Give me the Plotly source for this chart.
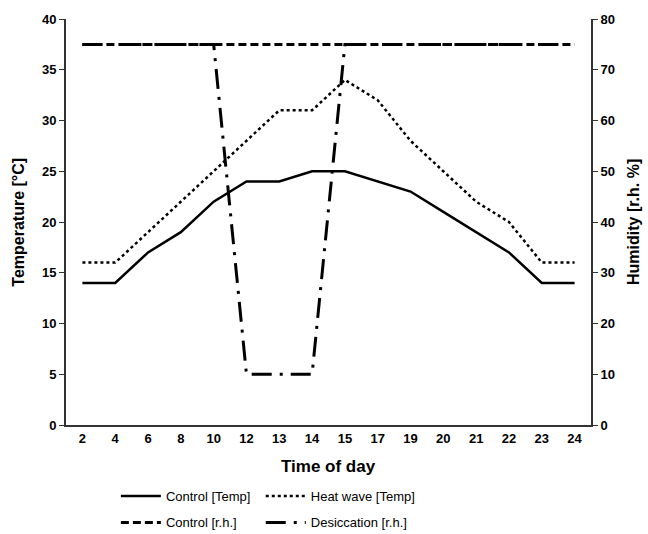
import plotly.graph_objects as go

hours = ["2", "4", "6", "8", "10", "12", "13", "14", "15", "17", "19", "20", "21", "22", "23", "24"]
control_temp = [14, 14, 17, 19, 22, 24, 24, 25, 25, 24, 23, 21, 19, 17, 14, 14]
heatwave_temp = [16, 16, 19, 22, 25, 28, 31, 31, 34, 32, 28, 25, 22, 20, 16, 16]
control_rh = [75, 75, 75, 75, 75, 75, 75, 75, 75, 75, 75, 75, 75, 75, 75, 75]
desiccation_rh = [75, 75, 75, 75, 75, 10, 10, 10, 75, 75, 75, 75, 75, 75, 75, 75]

FONT = "Liberation Sans, Arial, sans-serif"

fig = go.Figure()
fig.add_trace(go.Scatter(x=hours, y=control_temp, name="Control [Temp]", mode="lines",
                         legend="legend", line=dict(color="black", width=2.5)))
fig.add_trace(go.Scatter(x=hours, y=heatwave_temp, name="Heat wave [Temp]", mode="lines",
                         legend="legend2", line=dict(color="black", width=2.5, dash="dot")))
fig.add_trace(go.Scatter(x=hours, y=control_rh, name="Control [r.h.]", mode="lines", yaxis="y2",
                         legend="legend3", line=dict(color="black", width=3, dash="8px,4px")))
fig.add_trace(go.Scatter(x=hours, y=desiccation_rh, name="Desiccation [r.h.]", mode="lines", yaxis="y2",
                         legend="legend4", line=dict(color="black", width=3, dash="20px,8px,3px,8px")))

leg_common = dict(orientation="h", xanchor="left", yanchor="middle",
                  font=dict(size=13, family=FONT), itemwidth=40,
                  bgcolor="rgba(0,0,0,0)")

fig.update_layout(
    width=648, height=534,
    margin=dict(l=66, r=57, t=19, b=109, autoexpand=False),
    paper_bgcolor="white", plot_bgcolor="white",
    font=dict(family=FONT, color="black"),
    showlegend=True,
    legend=dict(x=0.095, y=-0.175, **leg_common),
    legend2=dict(x=0.371, y=-0.175, **leg_common),
    legend3=dict(x=0.095, y=-0.24, **leg_common),
    legend4=dict(x=0.371, y=-0.24, **leg_common),
    xaxis=dict(type="category", range=[-0.5, 15.5], showgrid=False, zeroline=False,
               showline=True, linecolor="#333", linewidth=2, ticks="",
               tickfont=dict(size=13, family=FONT, weight="bold"), automargin=False),
    yaxis=dict(range=[0, 40], dtick=5, showgrid=False, zeroline=False,
               showline=True, linecolor="#333", linewidth=2, ticks="outside", ticklen=5,
               tickcolor="#333", tickfont=dict(size=13, family=FONT, weight="bold"), automargin=False),
    yaxis2=dict(range=[0, 80], dtick=10, overlaying="y", side="right", showgrid=False, zeroline=False,
                showline=True, linecolor="#333", linewidth=2, ticks="outside", ticklen=5,
                tickcolor="#333", tickfont=dict(size=13, family=FONT, weight="bold"), automargin=False),
    annotations=[
        dict(text="<b>Time of day</b>", xref="paper", yref="paper", x=0.5, y=-0.102,
             xanchor="center", yanchor="middle", showarrow=False, font=dict(size=17, family=FONT)),
        dict(text="<b>Temperature [°C]</b>", xref="paper", yref="paper", x=-0.092, y=0.5,
             xanchor="center", yanchor="middle", textangle=-90, showarrow=False,
             font=dict(size=16, family=FONT)),
        dict(text="<b>Humidity [r.h. %]</b>", xref="paper", yref="paper", x=1.08, y=0.5,
             xanchor="center", yanchor="middle", textangle=-90, showarrow=False,
             font=dict(size=16, family=FONT)),
    ],
)

fig.write_html("out.html", config={"displayModeBar": False},
               post_script="document.body.style.margin='0';document.body.style.padding='0';")
